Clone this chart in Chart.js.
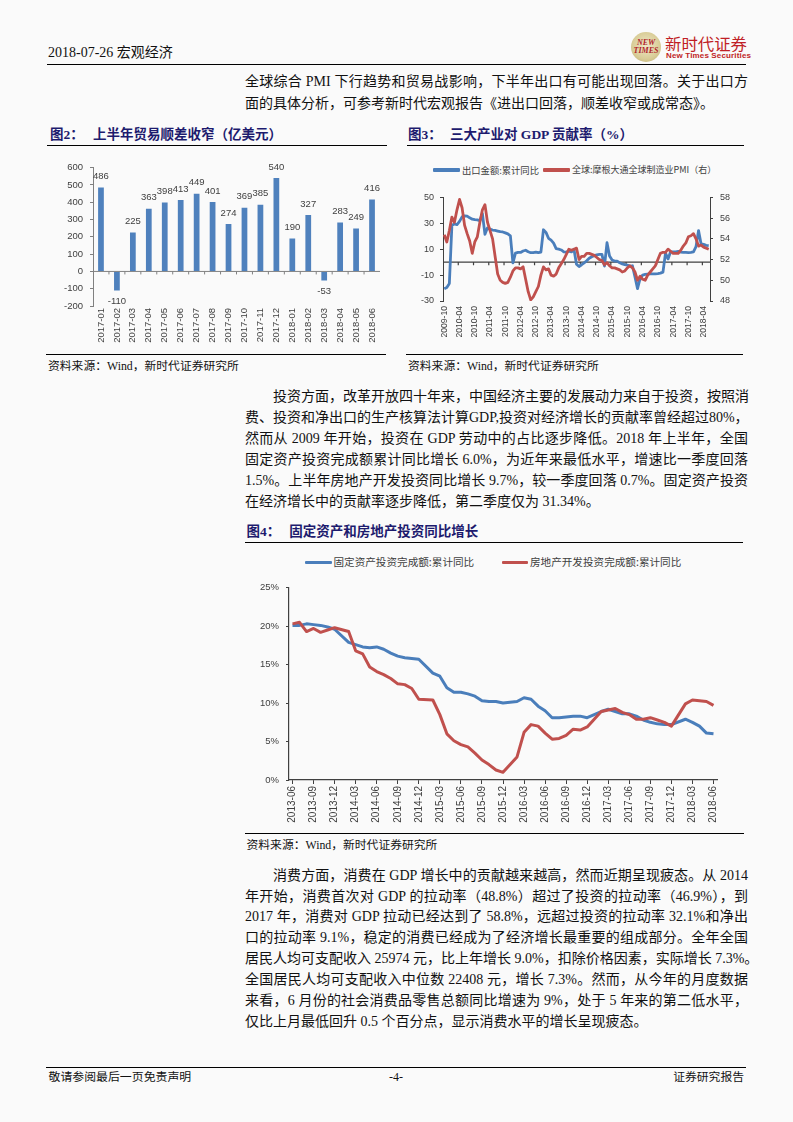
<!DOCTYPE html>
<html><head><meta charset="utf-8">
<script src="https://cdn.jsdelivr.net/npm/chart.js@4.4.1/dist/chart.umd.min.js"></script>
<style>
html,body{margin:0;padding:0;background:#fafafa;}
body{width:793px;height:1122px;position:relative;overflow:hidden;font-family:"Liberation Serif","Noto Sans CJK SC",serif;color:#111;}
.ln{position:absolute;left:245px;width:503px;font-size:14px;line-height:20px;height:20px;text-align:justify;text-align-last:justify;white-space:nowrap;}
.ind{text-indent:28px;}
.last{text-align-last:left;}
.rule{position:absolute;height:0;border-top:1.2px solid #000;}
.ft{position:absolute;font-size:13.5px;font-weight:bold;color:#1d1b6e;white-space:nowrap;line-height:16px;}
.src{position:absolute;font-size:11.8px;white-space:nowrap;line-height:16px;color:#111;}
.lg{position:absolute;white-space:nowrap;color:#404040;font-family:"Noto Sans CJK SC","Liberation Sans",sans-serif;line-height:14px;}
.sw{position:absolute;height:3.6px;border-radius:1px;}
.box{position:absolute;}
</style></head>
<body>
<!-- header -->
<div style="position:absolute;left:48px;top:43px;font-size:14px;line-height:20px;white-space:nowrap;">2018-07-26 宏观经济</div>
<div style="position:absolute;left:631px;top:32px;width:30px;height:30px;border-radius:50%;background:radial-gradient(circle at 50% 45%,#efe8c8 0%,#d9cd98 60%,#b9a86a 100%);"></div>
<div style="position:absolute;left:628px;top:39px;width:36px;text-align:center;font-family:'Liberation Serif',serif;font-style:italic;font-size:8px;line-height:8px;color:#b0252a;font-weight:bold;">NEW<br>TIMES</div>
<div style="position:absolute;left:665px;top:33px;font-size:16.4px;line-height:20px;color:#c01f26;font-family:'Noto Sans CJK SC',sans-serif;white-space:nowrap;">新时代证券</div>
<div style="position:absolute;left:666px;top:51px;font-size:8px;line-height:10px;color:#c01f26;font-weight:bold;font-family:'Liberation Sans Narrow','Liberation Sans',sans-serif;white-space:nowrap;letter-spacing:0.15px;">New Times Securities</div>
<div class="rule" style="left:47px;top:63.5px;width:699px;border-top-width:1.5px;"></div>

<!-- paragraph 1 -->
<div class="ln" style="top:72px;">全球综合 PMI 下行趋势和贸易战影响，下半年出口有可能出现回落。关于出口方</div>
<div class="ln last" style="top:94px;">面的具体分析，可参考新时代宏观报告《进出口回落，顺差收窄或成常态》。</div>

<!-- figure titles -->
<div class="ft" style="left:50px;top:127px;">图2：</div>
<div class="ft" style="left:93px;top:127px;">上半年贸易顺差收窄（亿美元）</div>
<div class="rule" style="left:46.5px;top:145px;width:340px;"></div>
<div class="ft" style="left:408px;top:127px;">图3：</div>
<div class="ft" style="left:450px;top:127px;">三大产业对 GDP 贡献率（%）</div>
<div class="rule" style="left:406.5px;top:145px;width:337px;"></div>

<!-- chart 2 -->
<div class="box" style="left:45px;top:155px;width:345px;height:193px;"><canvas id="c2"></canvas></div>
<!-- chart 3 legend -->
<div class="sw" style="left:433px;top:168.2px;width:27px;background:#4a7ebb;"></div>
<div class="lg" style="left:462px;top:163px;font-size:9.3px;">出口金额:累计同比</div>
<div class="sw" style="left:543px;top:168.2px;width:27px;background:#c0504d;"></div>
<div class="lg" style="left:572px;top:163px;font-size:9px;">全球:摩根大通全球制造业PMI（右）</div>
<div class="box" style="left:405px;top:185px;width:345px;height:160px;"><canvas id="c3"></canvas></div>

<div class="rule" style="left:46px;top:353.5px;width:340px;"></div>
<div class="rule" style="left:406px;top:353.5px;width:337px;"></div>
<div class="src" style="left:48px;top:358px;">资料来源：Wind，新时代证券研究所</div>
<div class="src" style="left:408px;top:358px;">资料来源：Wind，新时代证券研究所</div>

<!-- paragraph 2 -->
<div class="ln ind" style="top:386.7px;">投资方面，改革开放四十年来，中国经济主要的发展动力来自于投资，按照消</div>
<div class="ln" style="top:407.8px;">费、投资和净出口的生产核算法计算GDP,投资对经济增长的贡献率曾经超过80%，</div>
<div class="ln" style="top:428.9px;">然而从 2009 年开始，投资在 GDP 劳动中的占比逐步降低。2018 年上半年，全国</div>
<div class="ln" style="top:450px;">固定资产投资完成额累计同比增长 6.0%，为近年来最低水平，增速比一季度回落</div>
<div class="ln" style="top:471.1px;">1.5%。上半年房地产开发投资同比增长 9.7%，较一季度回落 0.7%。固定资产投资</div>
<div class="ln last" style="top:492.2px;">在经济增长中的贡献率逐步降低，第二季度仅为 31.34%。</div>

<!-- chart 4 -->
<div class="ft" style="left:246.5px;top:523.7px;">图4：</div>
<div class="ft" style="left:289.3px;top:523.7px;">固定资产和房地产投资同比增长</div>
<div class="rule" style="left:245px;top:541.5px;width:498px;"></div>
<div class="sw" style="left:305px;top:560.5px;width:27px;background:#4a7ebb;"></div>
<div class="lg" style="left:333.5px;top:555.3px;font-size:10.6px;">固定资产投资完成额:累计同比</div>
<div class="sw" style="left:502px;top:560.5px;width:26px;background:#c0504d;"></div>
<div class="lg" style="left:530px;top:555.3px;font-size:10.6px;">房地产开发投资完成额:累计同比</div>
<div class="box" style="left:245px;top:575px;width:505px;height:253px;"><canvas id="c4"></canvas></div>
<div class="rule" style="left:245px;top:832.5px;width:499px;"></div>
<div class="src" style="left:246.5px;top:837px;">资料来源：Wind，新时代证券研究所</div>

<!-- paragraph 3 -->
<div class="ln ind" style="top:865.7px;">消费方面，消费在 GDP 增长中的贡献越来越高，然而近期呈现疲态。从 2014</div>
<div class="ln" style="top:886.7px;">年开始，消费首次对 GDP 的拉动率（48.8%）超过了投资的拉动率（46.9%），到</div>
<div class="ln" style="top:907.4px;">2017 年，消费对 GDP 拉动已经达到了 58.8%，远超过投资的拉动率 32.1%和净出</div>
<div class="ln" style="top:928.4px;">口的拉动率 9.1%，稳定的消费已经成为了经济增长最重要的组成部分。全年全国</div>
<div class="ln" style="top:949.2px;">居民人均可支配收入 25974 元，比上年增长 9.0%，扣除价格因素，实际增长 7.3%。</div>
<div class="ln" style="top:970.1px;">全国居民人均可支配收入中位数 22408 元，增长 7.3%。然而，从今年的月度数据</div>
<div class="ln" style="top:990.8px;">来看，6 月份的社会消费品零售总额同比增速为 9%，处于 5 年来的第二低水平，</div>
<div class="ln last" style="top:1011.7px;">仅比上月最低回升 0.5 个百分点，显示消费水平的增长呈现疲态。</div>

<!-- footer -->
<div class="rule" style="left:46px;top:1066.5px;width:700px;border-top-width:1.3px;"></div>
<div style="position:absolute;left:48.5px;top:1069px;font-size:11.9px;line-height:16px;white-space:nowrap;">敬请参阅最后一页免责声明</div>
<div style="position:absolute;left:376px;width:40px;text-align:center;top:1069px;font-size:12px;line-height:16px;">-4-</div>
<div style="position:absolute;right:49px;top:1069px;font-size:11.8px;line-height:16px;white-space:nowrap;">证券研究报告</div>

<script>
// ---------------- data ----------------
const tradeMonths = ['2017-01','2017-02','2017-03','2017-04','2017-05','2017-06','2017-07','2017-08','2017-09','2017-10','2017-11','2017-12','2018-01','2018-02','2018-03','2018-04','2018-05','2018-06'];
const tradeBalance = [486,-110,225,363,398,413,449,401,274,369,385,540,190,327,-53,283,249,416];

function monthRange(y0, m0, y1, m1){
  const out=[]; let y=y0, m=m0;
  while(y<y1 || (y===y1 && m<=m1)){ out.push(y+'-'+String(m).padStart(2,'0')); m++; if(m>12){m=1;y++;} }
  return out;
}
const exportMonths = monthRange(2009,10,2018,6);
const exportYoY = [
  -20.5,-19.5,-16.5,
  28.5,29.5,29.0,31.5,35.0,35.8,35.5,34.2,33.2,32.8,32.6,32.0,
  37.5,21.5,26.5,25.5,24.8,24.5,24.0,23.5,23.3,22.6,21.8,20.3,
  -0.5,7.0,7.6,7.5,8.6,9.2,8.0,7.3,7.4,7.8,7.3,7.8,
  25.0,23.0,18.4,17.0,14.7,10.4,10.0,9.4,8.0,7.8,8.5,7.9,
  10.0,-1.6,-3.4,-2.0,-0.5,1.0,3.0,4.2,5.0,5.7,6.0,6.0,
  -3.0,15.0,4.7,1.6,0.8,0.8,-0.5,-1.3,-1.9,-2.3,-3.0,-2.8,
  -11.5,-20.5,-12.7,-10.0,-9.5,-9.2,-9.0,-9.0,-9.0,-8.8,-8.5,-7.7,
  7.0,2.5,8.0,8.0,8.0,8.3,7.8,7.5,7.5,7.4,7.6,7.9,
  12.0,24.4,14.1,13.7,13.0,12.8
];
const globalPMI = [
  54.4,53.7,54.8,
  56.1,55.6,56.8,57.8,57.0,55.3,54.5,53.8,52.6,53.7,54.2,55.6,
  56.8,57.3,55.6,54.8,54.0,52.3,50.6,50.0,49.8,49.7,49.8,50.3,
  50.9,51.2,51.2,51.1,51.3,50.1,48.9,48.1,48.4,48.9,49.4,50.5,
  51.3,51.0,51.1,50.5,50.4,50.6,51.2,51.6,52.0,52.5,53.0,52.9,
  53.0,53.1,52.0,52.3,52.3,52.6,52.6,52.5,52.4,52.2,52.0,51.9,
  51.5,51.7,51.4,51.2,51.2,51.1,51.0,50.8,50.9,51.2,51.4,51.2,
  50.8,50.0,50.4,50.1,50.0,50.5,50.8,51.1,51.4,52.0,52.6,52.7,
  52.7,53.0,52.8,52.6,52.6,52.6,52.9,53.3,53.6,54.2,54.3,54.5,
  54.0,53.3,53.4,53.2,53.1,53.0
];

const investMonths = monthRange(2013,6,2018,6);
const fixedAssetYoY = [
  20.1,20.1,20.3,20.2,20.1,19.9,19.6,
  null,17.9,17.6,17.3,17.2,17.3,17.0,16.5,16.1,15.9,15.8,15.7,
  null,13.9,13.5,12.0,11.4,11.4,11.2,10.9,10.3,10.2,10.2,10.0,
  null,10.2,10.7,10.5,9.6,9.0,8.1,8.1,8.2,8.3,8.3,8.1,
  null,8.9,9.2,8.9,8.6,8.6,8.3,7.8,7.5,7.3,7.2,7.2,
  null,7.9,7.5,7.0,6.1,6.0
];
const realEstateYoY = [
  20.3,20.5,19.3,19.7,19.2,19.5,19.8,
  null,19.3,16.8,16.4,14.7,14.1,13.7,13.2,12.5,12.4,11.9,10.5,
  null,10.4,8.5,6.0,5.1,4.6,4.3,3.5,2.6,2.0,1.3,1.0,
  null,3.0,6.2,7.2,7.0,6.1,5.3,5.4,5.8,6.6,6.5,6.9,
  null,8.9,9.1,9.3,8.8,8.5,7.9,7.9,8.1,7.8,7.5,7.0,
  null,9.9,10.4,10.3,10.2,9.7
];

// ---------------- helpers ----------------
const FONT = '"Liberation Sans", Arial, sans-serif';
const TXT = '#404040';

const zeroAxis = {
  id:'zeroAxis',
  beforeDatasetsDraw(chart, args, o){
    if(!o || !o.enabled) return;
    const {ctx, chartArea:a, scales} = chart;
    const y = scales[o.yId].getPixelForValue(0);
    const xs = scales.x, n = chart.data.labels.length;
    ctx.save();
    ctx.strokeStyle = o.color; ctx.lineWidth = o.width;
    ctx.beginPath(); ctx.moveTo(a.left, y); ctx.lineTo(a.right, y);
    for(let i=o.every; i<n; i+=o.every){
      const x = (xs.getPixelForValue(i-1)+xs.getPixelForValue(i))/2;
      ctx.moveTo(x, y); ctx.lineTo(x, y+o.len);
    }
    ctx.stroke(); ctx.restore();
  }
};
const barLabels = {
  id:'barLabels',
  afterDatasetsDraw(chart, args, o){
    if(!o || !o.enabled) return;
    const {ctx} = chart;
    const meta = chart.getDatasetMeta(0);
    const vals = chart.data.datasets[0].data;
    ctx.save();
    ctx.font = o.size+'px '+FONT; ctx.fillStyle = TXT;
    ctx.textAlign='center'; ctx.textBaseline='middle';
    meta.data.forEach((bar,i)=>{
      const v = vals[i];
      ctx.fillText(String(v), bar.x, v>=0 ? bar.y-o.offset : bar.y+o.offset);
    });
    ctx.restore();
  }
};

// ---------------- chart 2 ----------------
new Chart(document.getElementById('c2'), {
  type:'bar',
  data:{labels:tradeMonths, datasets:[{data:tradeBalance, backgroundColor:'#4f81bd', barPercentage:0.36, categoryPercentage:1}]},
  options:{
    responsive:true, maintainAspectRatio:false, animation:false,
    layout:{padding:{left:0,right:10,top:8,bottom:0}},
    plugins:{legend:{display:false}, tooltip:{enabled:false},
      zeroAxis:{enabled:true,yId:'y',color:'#808080',width:1,every:1,len:3},
      barLabels:{enabled:true,offset:11,size:9.5}},
    scales:{
      x:{grid:{display:false,drawTicks:false}, border:{display:false},
         ticks:{autoSkip:false,minRotation:90,maxRotation:90,padding:2,color:TXT,font:{size:9.5,family:FONT}},
         afterFit(s){s.height=42;}},
      y:{min:-200,max:600,
         ticks:{stepSize:100,color:TXT,padding:7,font:{size:9.5,family:FONT}},
         grid:{drawOnChartArea:false,drawTicks:true,tickLength:3,color:'#808080'},
         border:{display:true,color:'#808080'},
         afterFit(s){s.width=48;}}
    }
  },
  plugins:[zeroAxis,barLabels]
});

// ---------------- chart 3 ----------------
new Chart(document.getElementById('c3'), {
  type:'line',
  data:{labels:exportMonths, datasets:[
    {data:exportYoY, yAxisID:'y', borderColor:'#4a7ebb', borderWidth:2.8, pointRadius:0, tension:0, order:2, borderJoinStyle:'round'},
    {data:globalPMI, yAxisID:'y1', borderColor:'#c0504d', borderWidth:2.8, pointRadius:0, tension:0, order:1, borderJoinStyle:'round'}
  ]},
  options:{
    responsive:true, maintainAspectRatio:false, animation:false,
    layout:{padding:{left:0,right:0,top:9,bottom:0}},
    plugins:{legend:{display:false}, tooltip:{enabled:false},
      zeroAxis:{enabled:true,yId:'y',color:'#404040',width:1.2,every:6,len:3}},
    scales:{
      x:{offset:true, grid:{display:false,drawTicks:false}, border:{display:false},
         ticks:{autoSkip:false,minRotation:90,maxRotation:90,padding:5,color:TXT,font:{size:8.6,family:FONT},
           callback(v,i){ return i%6===0 ? exportMonths[i] : ''; }},
         afterFit(s){s.height=44;}},
      y:{position:'left',min:-30,max:50,
         ticks:{stepSize:10,color:TXT,padding:6,font:{size:9,family:FONT}},
         grid:{drawOnChartArea:false,drawTicks:true,tickLength:3,color:'#404040'},
         border:{display:true,color:'#404040'},
         afterFit(s){s.width=38;}},
      y1:{position:'right',min:48,max:58,
         ticks:{stepSize:1,color:TXT,padding:7,font:{size:9,family:FONT}},
         grid:{drawOnChartArea:false,drawTicks:true,tickLength:3,color:'#404040'},
         border:{display:true,color:'#404040'},
         afterFit(s){s.width=40;}}
    }
  },
  plugins:[zeroAxis]
});

// ---------------- chart 4 ----------------
const isQuarter = i => ['03','06','09','12'].includes(investMonths[i].slice(5));
new Chart(document.getElementById('c4'), {
  type:'line',
  data:{labels:investMonths, datasets:[
    {data:fixedAssetYoY, borderColor:'#4a7ebb', borderWidth:3, pointRadius:0, tension:0, spanGaps:true, order:2, borderJoinStyle:'round'},
    {data:realEstateYoY, borderColor:'#c0504d', borderWidth:3, pointRadius:0, tension:0, spanGaps:true, order:1, borderJoinStyle:'round'}
  ]},
  options:{
    responsive:true, maintainAspectRatio:false, animation:false,
    layout:{padding:{left:0,right:33,top:12,bottom:0}},
    plugins:{legend:{display:false}, tooltip:{enabled:false}},
    scales:{
      x:{offset:true,
         grid:{offset:false,drawOnChartArea:false,drawTicks:true,tickLength:4,
               color:c=>isQuarter(c.index)?'#404040':'rgba(0,0,0,0)',
               tickColor:c=>isQuarter(c.index)?'#404040':'rgba(0,0,0,0)'},
         border:{display:true,color:'#404040',width:1.2},
         ticks:{autoSkip:false,minRotation:90,maxRotation:90,padding:2,color:TXT,font:{size:10,family:FONT},
           callback(v,i){ return isQuarter(i) ? investMonths[i] : ''; }},
         afterFit(s){s.height=48;}},
      y:{min:0,max:25,
         ticks:{stepSize:5,color:TXT,padding:7,font:{size:9.5,family:FONT},callback:v=>v+'%'},
         grid:{drawOnChartArea:false,drawTicks:true,tickLength:3,color:'#404040'},
         border:{display:true,color:'#404040',width:1.2},
         afterFit(s){s.width=44;}}
    }
  }
});
</script>
</body></html>
